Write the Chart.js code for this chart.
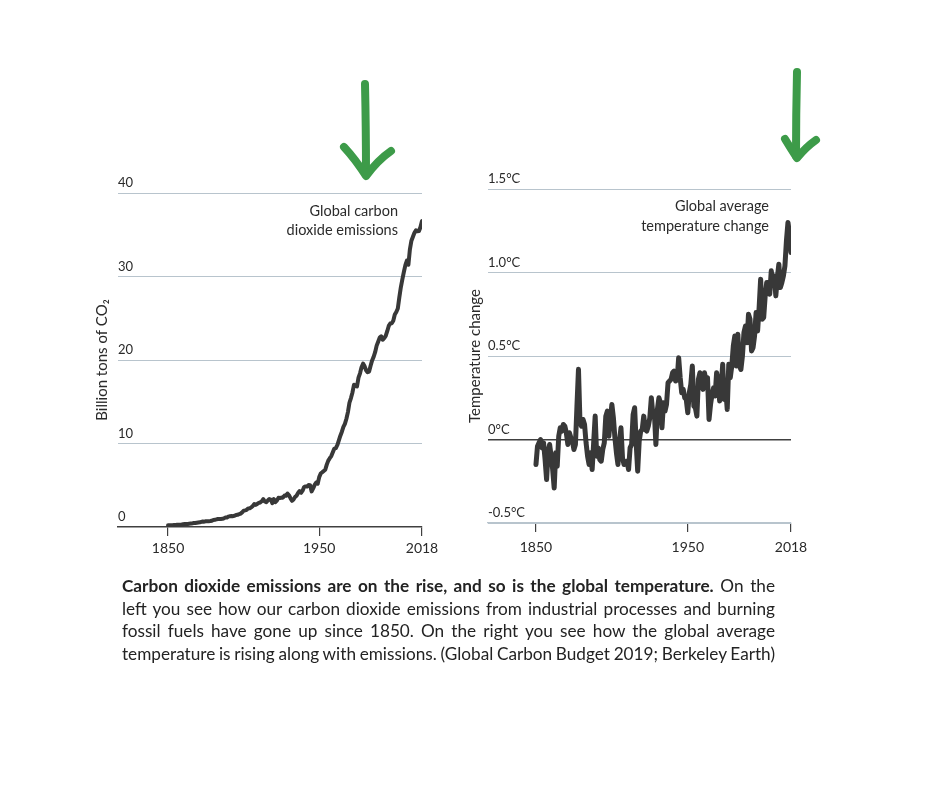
<!DOCTYPE html>
<html>
<head>
<meta charset="utf-8">
<script src="https://cdn.jsdelivr.net/npm/chart.js@4.4.1/dist/chart.umd.min.js"></script>
<style>
  html, body { margin: 0; padding: 0; background: #ffffff; }
  body { width: 940px; height: 788px; position: relative; overflow: hidden;
         font-family: Lato, "Open Sans", sans-serif; color: #262626; }
  canvas { position: absolute; }
  #c1 { left: 60px; top: 140px; }
  #c2 { left: 440px; top: 140px; }
  .note { position: absolute; text-align: right; font-size: 14.5px; color: #2b2b2b; white-space: nowrap; }
  #note1 { right: 542px; top: 201px; line-height: 19px; }
  #note2 { right: 171px; top: 196px; line-height: 20px; }
  #cap { position: absolute; left: 122px; top: 575px; width: 653px; font-size: 17.2px;
         line-height: 22.5px; color: #232323; }
  #cap .ln { white-space: nowrap; }
  #arrows { position: absolute; left: 0; top: 0; pointer-events: none; }
</style>
</head>
<body>
<canvas id="c1" width="390" height="440"></canvas>
<canvas id="c2" width="380" height="440"></canvas>

<div class="note" id="note1">Global carbon<br>dioxide emissions</div>
<div class="note" id="note2">Global average<br>temperature change</div>

<svg id="arrows" width="940" height="788" viewBox="0 0 940 788">
  <g fill="none" stroke="#3d9b49" stroke-width="8" stroke-linecap="round" stroke-linejoin="round">
    <path d="M365 84 Q366 130 366 172"/>
    <path d="M344 147 Q356 160 366 176 Q378 160 391 151"/>
    <path d="M797 72 Q796 115 796 156"/>
    <path d="M785 139 Q791 149 797 158 Q806 147 816 140"/>
  </g>
</svg>

<div id="cap">
  <div class="ln"><span><b>Carbon dioxide emissions are on the rise, and so is the global temperature.</b> On the</span></div>
  <div class="ln"><span>left you see how our carbon dioxide emissions from industrial processes and burning</span></div>
  <div class="ln"><span>fossil fuels have gone up since 1850. On the right you see how the global average</span></div>
  <div class="ln"><span>temperature is rising along with emissions. (Global Carbon Budget 2019; Berkeley Earth)</span></div>
</div>

<script>
// ---------------- DATA ----------------
const startYear = 1850;
const xTickYears = [1850, 1950, 2018];
const co2TickValues = [0, 10, 20, 30, 40];
const tempTickValues = [-0.5, 0, 0.5, 1.0, 1.5];

// Global CO2 emissions, billion tons, 1850-2018
const co2Emissions = [
  0.20,0.20,0.21,0.22,0.25,0.25,0.27,0.28,0.28,0.30,
  0.33,0.35,0.35,0.37,0.40,0.43,0.43,0.47,0.47,0.50,
  0.53,0.56,0.62,0.67,0.64,0.68,0.69,0.70,0.71,0.75,
  0.84,0.86,0.91,0.96,0.97,0.97,0.98,1.04,1.13,1.15,
  1.25,1.30,1.32,1.30,1.34,1.43,1.46,1.53,1.61,1.75,
  1.95,1.99,2.05,2.23,2.24,2.36,2.49,2.75,2.65,2.76,
  2.89,2.94,3.08,3.34,3.05,2.97,3.18,3.35,3.29,2.86,
  3.35,2.98,3.16,3.49,3.47,3.52,3.51,3.76,3.74,4.01,
  3.80,3.45,3.13,3.30,3.59,3.75,4.07,4.30,4.10,4.35,
  4.78,4.86,4.86,5.02,5.00,4.26,4.62,5.04,5.33,5.18,
  5.97,6.40,6.55,6.71,6.86,7.47,7.95,8.24,8.49,8.94,
  9.39,9.44,9.82,10.37,10.93,11.41,11.98,12.35,12.96,13.76,
  14.88,15.44,16.12,17.03,16.92,16.84,17.88,18.41,19.13,19.56,
  19.27,18.78,18.54,18.61,19.32,19.95,20.37,20.93,21.72,22.19,
  22.68,22.83,22.43,22.61,22.89,23.45,24.08,24.37,24.41,24.71,
  25.45,25.75,26.17,27.50,28.71,29.65,30.54,31.36,31.90,31.40,
  33.26,34.29,34.77,35.23,35.52,35.43,35.45,35.92,36.65
];

// Global average temperature change, degrees C, 1850-2018
const temperatureChange = [
  -0.15,-0.04,-0.02,0.00,-0.05,-0.02,-0.12,-0.24,-0.07,-0.03,
  -0.10,-0.18,-0.29,-0.08,-0.16,0.02,0.07,0.05,0.09,0.08,
  0.04,-0.03,0.04,0.01,-0.01,-0.06,-0.03,0.20,0.42,0.10,
  0.08,0.12,0.09,-0.02,-0.10,-0.15,-0.08,-0.18,-0.02,0.14,
  -0.10,-0.05,-0.12,-0.13,-0.06,-0.02,0.14,0.17,0.02,0.12,
  0.21,0.13,0.01,-0.08,-0.15,-0.01,0.07,-0.11,-0.15,-0.14,
  -0.13,-0.18,-0.05,-0.03,0.15,0.19,-0.02,-0.19,-0.01,0.05,
  0.06,0.14,0.06,0.05,0.08,0.13,0.25,0.15,0.16,-0.03,
  0.18,0.25,0.22,0.07,0.22,0.17,0.21,0.34,0.35,0.36,
  0.40,0.41,0.35,0.36,0.49,0.37,0.28,0.30,0.25,0.24,
  0.16,0.28,0.33,0.44,0.20,0.19,0.14,0.36,0.40,0.36,
  0.30,0.40,0.35,0.37,0.12,0.21,0.27,0.31,0.26,0.40,
  0.35,0.23,0.31,0.45,0.24,0.30,0.18,0.45,0.37,0.44,
  0.56,0.62,0.44,0.63,0.44,0.42,0.50,0.64,0.68,0.58,
  0.75,0.72,0.53,0.55,0.62,0.76,0.65,0.79,0.96,0.72,
  0.73,0.86,0.94,0.94,0.87,1.01,0.94,0.98,0.86,0.97,
  1.05,0.91,0.94,0.98,1.04,1.19,1.30,1.23,1.12
];

const co2Years = co2Emissions.map((_, i) => startYear + i);
const tempYears = temperatureChange.map((_, i) => startYear + i);

// ---------------- STYLE ----------------
const FONT = 'Lato';
const GRID = '#b8c4cd';
const DARK = '#404040';
const LINE = '#383838';
const TEXT = '#2a2a2a';

function setTicks(values) {
  return s => { s.ticks = values.map(v => ({ value: v })); };
}

function drawCharts() {
  new Chart(document.getElementById('c1'), {
    type: 'line',
    data: {
      datasets: [{
        data: co2Years.map((y, i) => ({ x: y, y: co2Emissions[i] })),
        borderColor: LINE, borderWidth: 4, pointRadius: 0, tension: 0, fill: false,
        borderJoinStyle: 'round', borderCapStyle: 'round'
      }]
    },
    options: {
      responsive: false, animation: false, devicePixelRatio: 1,
      layout: { padding: { left: 0, right: 28, top: 53, bottom: 13 } },
      plugins: { legend: { display: false }, tooltip: { enabled: false } },
      scales: {
        x: {
          type: 'linear', min: 1816.9, max: 2018,
          afterBuildTicks: setTicks(xTickYears),
          afterFit: s => { s.height = 40; },
          grid: { drawOnChartArea: false, drawTicks: true, tickLength: 9, color: DARK, lineWidth: 1.2 },
          border: { display: true, color: DARK, width: 1.5 },
          ticks: { padding: 4, maxRotation: 0, autoSkip: false, color: TEXT,
                   font: { family: FONT, size: 14 }, callback: v => String(v) }
        },
        y: {
          min: 0, max: 40,
          afterBuildTicks: setTicks(co2TickValues),
          afterFit: s => { s.width = 58; },
          grid: { drawTicks: false, lineWidth: 1,
                  color: c => (c.tick && c.tick.value === 0) ? 'rgba(0,0,0,0)' : GRID },
          border: { display: false },
          ticks: { mirror: true, padding: 0, labelOffset: -10, color: TEXT,
                   font: { family: FONT, size: 13 }, callback: v => String(v) },
          title: { display: true, text: 'Billion tons of CO\u2082', color: TEXT,
                   font: { family: FONT, size: 15 }, padding: { top: 33, bottom: 0 } }
        }
      }
    }
  });

  new Chart(document.getElementById('c2'), {
    type: 'line',
    data: {
      datasets: [{
        data: tempYears.map((y, i) => ({ x: y, y: temperatureChange[i] })),
        borderColor: LINE, borderWidth: 5, pointRadius: 0, tension: 0, fill: false,
        borderJoinStyle: 'round', borderCapStyle: 'round'
      }]
    },
    options: {
      responsive: false, animation: false, devicePixelRatio: 1,
      layout: { padding: { left: 0, right: 29, top: 49, bottom: 17 } },
      plugins: { legend: { display: false }, tooltip: { enabled: false } },
      scales: {
        x: {
          type: 'linear', min: 1818.4, max: 2018,
          afterBuildTicks: setTicks(xTickYears),
          afterFit: s => { s.height = 40; },
          grid: { drawOnChartArea: false, drawTicks: true, tickLength: 9, color: DARK, lineWidth: 1.2 },
          border: { display: true, color: GRID, width: 1.2 },
          ticks: { padding: 7, maxRotation: 0, autoSkip: false, color: TEXT,
                   font: { family: FONT, size: 14 }, callback: v => String(v) }
        },
        y: {
          min: -0.5, max: 1.5,
          afterBuildTicks: setTicks(tempTickValues),
          afterFit: s => { s.width = 48; },
          grid: { drawTicks: false,
                  lineWidth: c => (c.tick && c.tick.value === 0) ? 1.6 : 1,
                  color: c => (c.tick && c.tick.value === 0) ? DARK : GRID },
          border: { display: false },
          ticks: { mirror: true, padding: 0, labelOffset: -10, color: TEXT,
                   font: { family: FONT, size: 13 },
                   callback: v => (v === 0 ? '0' : v.toFixed(1)) + '\u00B0C' },
          title: { display: true, text: 'Temperature change', color: TEXT,
                   font: { family: FONT, size: 15 }, padding: { top: 26, bottom: 0 } }
        }
      }
    }
  });
}

function justifyCaption() {
  const target = 653;
  document.querySelectorAll('#cap .ln span').forEach(span => {
    span.style.wordSpacing = '0px';
    const w = span.getBoundingClientRect().width;
    const spaces = (span.textContent.match(/ /g) || []).length;
    if (spaces > 0) span.style.wordSpacing = ((target - w) / spaces) + 'px';
  });
}

Promise.all([
  document.fonts.load('13px Lato'),
  document.fonts.load('bold 16px Lato')
]).catch(() => {}).then(() => {
  drawCharts();
  justifyCaption();
});
</script>
</body>
</html>
